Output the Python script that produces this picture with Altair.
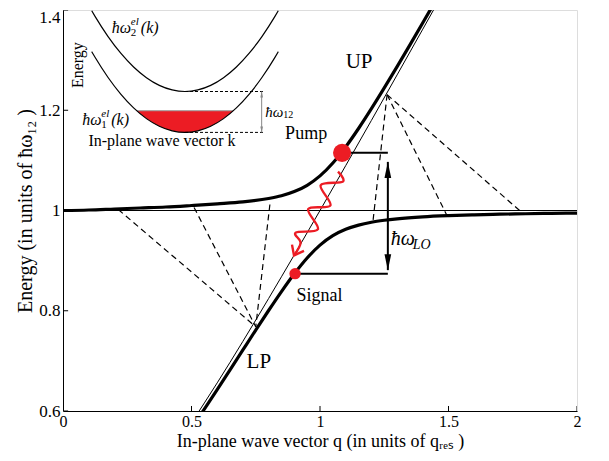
import altair as alt
import pandas as pd

FONT = "Liberation Serif"
RED = "#ec1c24"

# ---------------- data ----------------
x_ticks = [0, 0.5, 1, 1.5, 2]
y_ticks = [0.6, 0.8, 1.0, 1.2, 1.4]

# upper polariton branch
up_q = [0.0, 0.1, 0.2, 0.3, 0.4, 0.5, 0.6, 0.7, 0.8, 0.85, 0.9, 0.95, 1.0, 1.05,
        1.1, 1.15, 1.2, 1.25, 1.3, 1.35, 1.4, 1.45]
up_e = [1.000, 1.001, 1.003, 1.005, 1.007, 1.010, 1.0133, 1.0171, 1.0239, 1.0294,
        1.0377, 1.0503, 1.0690, 1.0948, 1.1270, 1.1636, 1.2031, 1.2445, 1.2871,
        1.3305, 1.3745, 1.4189]

# lower polariton branch
lp_q = [0.5, 0.55, 0.6, 0.65, 0.7, 0.75, 0.8, 0.85, 0.9, 0.95, 1.0, 1.05, 1.1,
        1.15, 1.2, 1.25, 1.3, 1.4, 1.5, 1.6, 1.7, 1.8, 1.9, 2.0]
lp_e = [0.5656, 0.6038, 0.6427, 0.6822, 0.7219, 0.7615, 0.8005, 0.8383, 0.8738,
        0.9053, 0.9310, 0.9498, 0.9625, 0.9709, 0.9766, 0.9805, 0.9834, 0.9873,
        0.9897, 0.9914, 0.9926, 0.9935, 0.9943, 0.9948]

# bare cavity photon (thin line)
ph_q = [0.5, 0.6, 0.7, 0.8, 0.9, 1.0, 1.1, 1.2, 1.3, 1.4, 1.5]
ph_e = [0.5766, 0.6561, 0.7390, 0.8244, 0.9115, 1.0, 1.0895, 1.1797, 1.2705, 1.3618, 1.4534]

# intersubband transition (thin horizontal)
isb_q = [0, 2]
isb_e = [1.0, 1.0]

# dashed scattering paths
dash_q1 = [0.215, 0.51, 0.805, 1.261, 1.261, 1.261]
dash_e1 = [1.002, 1.006, 1.012, 1.231, 1.231, 1.231]
dash_q2 = [0.75, 0.75, 0.75, 1.206, 1.494, 1.79]
dash_e2 = [0.768, 0.768, 0.768, 0.978, 0.990, 0.994]

# pump & signal
pump_q, pump_e = 1.086, 1.115
signal_q, signal_e = 0.903, 0.874
lo_q = 1.264                     # position of the LO-phonon arrow
lo_top, lo_bottom = 1.097, 0.881  # arrow tips

# wavy red arrow (vertices)
wave_q = [1.0700, 1.0891, 1.0027, 1.0405, 0.9541, 0.9918, 0.9054, 0.9245, 0.8988]
wave_e = [1.0776, 1.0575, 1.0503, 1.0101, 1.0030, 0.9626, 0.9558, 0.9355, 0.9104]
head_q = [0.891, 0.8988, 0.9377]
head_e = [0.9319, 0.9104, 0.9194]

# inset: electronic subband parabolas
par_q = [0.1117, 0.1247, 0.1747, 0.2247, 0.2747, 0.3247, 0.3747, 0.4247, 0.4747,
         0.5247, 0.5747, 0.6247, 0.6747, 0.7247, 0.7747, 0.8247, 0.8377]
sub1_e = [1.3169, 1.3056, 1.2658, 1.2322, 1.2047, 1.1833, 1.1680, 1.1589, 1.1558,
          1.1589, 1.1680, 1.1833, 1.2047, 1.2322, 1.2658, 1.3056, 1.3169]
sub2_e = [1.3985, 1.3872, 1.3474, 1.3138, 1.2863, 1.2649, 1.2496, 1.2405, 1.2374,
          1.2405, 1.2496, 1.2649, 1.2863, 1.3138, 1.3474, 1.3872, 1.3985]
fermi_q = [0.2867, 0.3247, 0.3747, 0.4247, 0.4747, 0.5247, 0.5747, 0.6247, 0.6627]
fermi_lo = [1.199, 1.1833, 1.1680, 1.1589, 1.1558, 1.1589, 1.1680, 1.1833, 1.199]
fermi_level = 1.199
gap_q0, gap_q1 = 0.4747, 0.778
gap_top, gap_bottom = 1.2374, 1.1558
gap_arrow_q = 0.773

# text labels
txt_up = ("UP", 1.152, 1.2965)
txt_lp = ("LP", 0.762, 0.697)
txt_pump = ("Pump", 0.946, 1.153)
txt_signal = ("Signal", 0.909, 0.829)
txt_lo = (1.275, 0.944)
txt_w2 = (0.19, 1.364)
txt_w1 = (0.075, 1.181)
txt_w12 = (0.787, 1.197)
txt_energy = ("Energy", 0.058, 1.29)
txt_kaxis = ("In-plane wave vector k", 0.385, 1.139)

# ---------------- chart ----------------
xs = alt.Scale(domain=[0, 2], nice=False, zero=False)
ys = alt.Scale(domain=[0.6, 1.4], nice=False, zero=False)

X = alt.X("q:Q", scale=xs, axis=alt.Axis(
    values=x_ticks, format="~g", ticks=False, grid=False, domainColor="black",
    labelFont=FONT, labelFontSize=16, labelColor="black", labelPadding=2,
    labelFlush=False, labelOverlap=False,
    title="In-plane wave vector q (in units of qᵣₑₛ )", titleFont=FONT,
    titleFontSize=18, titleFontWeight="normal", titleColor="black", titlePadding=3))
Y = alt.Y("E:Q", scale=ys, axis=alt.Axis(
    values=y_ticks, format="~g", ticks=False, grid=False, domainColor="black",
    labelFont=FONT, labelFontSize=17, labelColor="black", labelPadding=3,
    labelFlush=False, labelOverlap=False,
    labelOffset={"condition": {"test": "datum.value >= 1.39", "value": 7}, "value": 0},
    title="Energy (in units of ħω₁₂ )", titleFont=FONT, titleFontSize=20,
    titleFontWeight="normal", titleColor="black", titlePadding=3))
X2 = alt.X2("q2:Q")
Y2 = alt.Y2("E2:Q")


def curve(qs, es, width, color="black", dash=None, interp="monotone"):
    kw = dict(color=color, strokeWidth=width, clip=True, interpolate=interp)
    if dash:
        kw["strokeDash"] = dash
    d = pd.DataFrame({"q": qs, "E": es, "i": list(range(len(qs)))})
    return alt.Chart(d).mark_line(**kw).encode(x=X, y=Y, order="i:Q")


def segs(q1, e1, q2, e2, width, color="black", dash=None):
    kw = dict(color=color, strokeWidth=width, clip=True)
    if dash:
        kw["strokeDash"] = dash
    d = pd.DataFrame({"q": q1, "E": e1, "q2": q2, "E2": e2})
    return alt.Chart(d).mark_rule(**kw).encode(x=X, y=Y, x2=X2, y2=Y2)


def text(t, q, e, size, **kw):
    d = pd.DataFrame({"q": [q], "E": [e], "t": [t]})
    opts = dict(font=FONT, fontSize=size, color="black", baseline="middle")
    opts.update(kw)
    return alt.Chart(d).mark_text(**opts).encode(x=X, y=Y, text="t:N")


def head(q, e, shape, size, color, yoff):
    d = pd.DataFrame({"q": [q], "E": [e]})
    return alt.Chart(d).mark_point(shape=shape, size=size, filled=True, color=color,
                                   opacity=1, strokeWidth=0, yOffset=yoff).encode(x=X, y=Y)


layers = []

# manual inward ticks
tick_len_e = 0.01
tick_len_q = 0.02
layers.append(segs(x_ticks, [0.6] * 5, x_ticks, [0.6 + tick_len_e] * 5, 1))
layers.append(segs([0] * 5, y_ticks, [tick_len_q] * 5, y_ticks, 1))

# inset
fill_df = pd.DataFrame({"q": fermi_q, "E": fermi_lo, "E2": [fermi_level] * len(fermi_q)})
layers.append(alt.Chart(fill_df).mark_area(color=RED, opacity=1, interpolate="monotone")
              .encode(x=X, y=Y, y2=Y2))
layers.append(segs([fermi_q[0]], [fermi_level], [fermi_q[-1]], [fermi_level], 1, color="#999999"))
layers.append(curve(par_q, sub1_e, 1.2))
layers.append(curve(par_q, sub2_e, 1.2))
layers.append(segs([gap_q0, gap_q0], [gap_top, gap_bottom], [gap_q1, gap_q1],
                   [gap_top, gap_bottom], 1, dash=[3, 2]))
layers.append(segs([gap_arrow_q], [gap_top], [gap_arrow_q], [gap_bottom], 1, color="#888888"))
layers.append(head(gap_arrow_q, gap_top, "M0,-1L0.45,1L-0.45,1Z", 36, "#888888", 3))
layers.append(head(gap_arrow_q, gap_bottom, "M0,1L0.45,-1L-0.45,-1Z", 36, "#888888", -3))

# main thin lines
layers.append(curve(isb_q, isb_e, 1, interp="linear"))
layers.append(curve(ph_q, ph_e, 1))
layers.append(segs(dash_q1, dash_e1, dash_q2, dash_e2, 1.2, dash=[6, 4]))

# polariton branches
layers.append(curve(up_q, up_e, 3.2))
layers.append(curve(lp_q, lp_e, 3.2))

# pump/signal bracket and LO arrow
layers.append(segs([pump_q, signal_q], [pump_e, signal_e], [lo_q, lo_q], [pump_e, signal_e], 2))
layers.append(segs([lo_q], [lo_top], [lo_q], [lo_bottom], 2))
layers.append(head(lo_q, lo_top, "M0,-1L0.42,1L-0.42,1Z", 256, "black", 8))
layers.append(head(lo_q, lo_bottom, "M0,1L0.42,-1L-0.42,-1Z", 256, "black", -8))

# wavy arrow
layers.append(curve(wave_q, wave_e, 2.4, color=RED, interp="cardinal"))
layers.append(curve(head_q, head_e, 2.4, color=RED, interp="linear"))

# pump & signal dots
layers.append(alt.Chart(pd.DataFrame({"q": [pump_q], "E": [pump_e]}))
              .mark_circle(size=330, color=RED, opacity=1).encode(x=X, y=Y))
layers.append(alt.Chart(pd.DataFrame({"q": [signal_q], "E": [signal_e]}))
              .mark_circle(size=130, color=RED, opacity=1).encode(x=X, y=Y))

# labels
layers.append(text(txt_up[0], txt_up[1], txt_up[2], 21))
layers.append(text(txt_lp[0], txt_lp[1], txt_lp[2], 21))
layers.append(text(txt_pump[0], txt_pump[1], txt_pump[2], 18))
layers.append(text(txt_signal[0], txt_signal[1], txt_signal[2], 18, align="left"))
layers.append(text("ħω", txt_lo[0], txt_lo[1], 20, align="left", fontStyle="italic"))
layers.append(text("LO", txt_lo[0], txt_lo[1], 14, align="left", fontStyle="italic", dx=22, dy=6))

for (lq, le), sub in ((txt_w2, "2"), (txt_w1, "1")):
    layers.append(text("ħω", lq, le, 16, align="left", fontStyle="italic"))
    layers.append(text("el", lq, le, 11, align="left", fontStyle="italic", dx=19, dy=-6))
    layers.append(text(sub, lq, le, 11, align="left", dx=19, dy=5))
    layers.append(text("(k)", lq, le, 16, align="left", fontStyle="italic", dx=29))

layers.append(text("ħω", txt_w12[0], txt_w12[1], 15, align="left", fontStyle="italic"))
layers.append(text("12", txt_w12[0], txt_w12[1], 10, align="left", dx=18, dy=3))
layers.append(text(txt_energy[0], txt_energy[1], txt_energy[2], 16, angle=270))
layers.append(text(txt_kaxis[0], txt_kaxis[1], txt_kaxis[2], 16))

chart = alt.layer(*layers).properties(
    width=514, height=401,
    autosize=alt.AutoSizeParams(type="none"),
    padding={"left": 55, "top": 2, "right": 20, "bottom": 42},
).configure_view(stroke=None).configure(background="white")

chart.save("out.html", embed_options={"renderer": "svg", "actions": False})
